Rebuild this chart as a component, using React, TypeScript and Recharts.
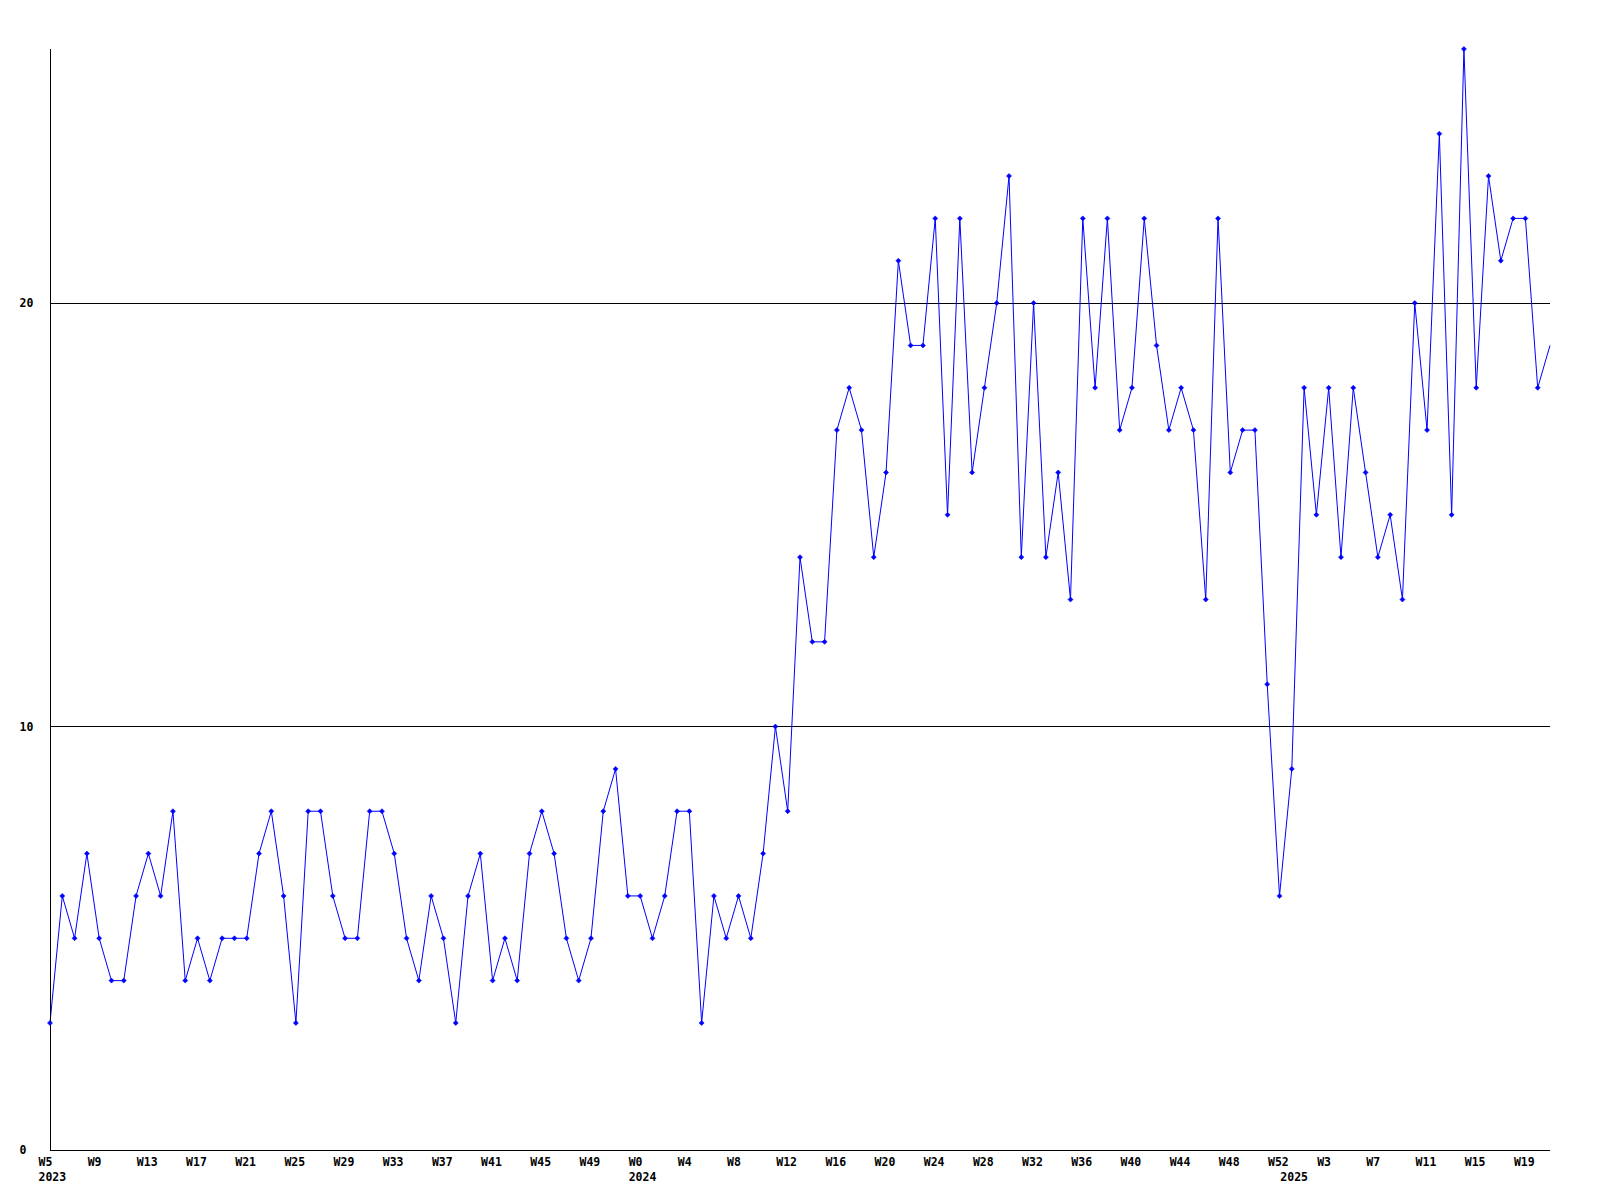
import React from "react";
import { LineChart, Line, XAxis, YAxis, ReferenceLine } from "recharts";

const categories: string[] = [
  "2023-W5","2023-W6","2023-W7","2023-W8","2023-W9","2023-W10","2023-W11","2023-W12","2023-W13","2023-W14",
  "2023-W15","2023-W16","2023-W17","2023-W18","2023-W19","2023-W20","2023-W21","2023-W22","2023-W23","2023-W24",
  "2023-W25","2023-W26","2023-W27","2023-W28","2023-W29","2023-W30","2023-W31","2023-W32","2023-W33","2023-W34",
  "2023-W35","2023-W36","2023-W37","2023-W38","2023-W39","2023-W40","2023-W41","2023-W42","2023-W43","2023-W44",
  "2023-W45","2023-W46","2023-W47","2023-W48","2023-W49","2023-W50","2023-W51","2023-W52",
  "2024-W0","2024-W1","2024-W2","2024-W3","2024-W4","2024-W5","2024-W6","2024-W7","2024-W8","2024-W9",
  "2024-W10","2024-W11","2024-W12","2024-W13","2024-W14","2024-W15","2024-W16","2024-W17","2024-W18","2024-W19",
  "2024-W20","2024-W21","2024-W22","2024-W23","2024-W24","2024-W25","2024-W26","2024-W27","2024-W28","2024-W29",
  "2024-W30","2024-W31","2024-W32","2024-W33","2024-W34","2024-W35","2024-W36","2024-W37","2024-W38","2024-W39",
  "2024-W40","2024-W41","2024-W42","2024-W43","2024-W44","2024-W45","2024-W46","2024-W47","2024-W48","2024-W49",
  "2024-W50","2024-W51","2024-W52",
  "2025-W0","2025-W1","2025-W2","2025-W3","2025-W4","2025-W5","2025-W6","2025-W7","2025-W8","2025-W9",
  "2025-W10","2025-W11","2025-W12","2025-W13","2025-W14","2025-W15","2025-W16","2025-W17","2025-W18","2025-W19",
  "2025-W20","2025-W21",
];

const values: number[] = [
  3, 6, 5, 7, 5, 4, 4, 6, 7, 6, 8, 4, 5, 4, 5, 5, 5, 7, 8, 6, 3, 8, 8,
  6, 5, 5, 8, 8, 7, 5, 4, 6, 5, 3, 6, 7, 4, 5, 4, 7, 8, 7, 5, 4, 5, 8,
  9, 6, 6, 5, 6, 8, 8, 3, 6, 5, 6, 5, 7, 10, 8, 14, 12,
  12,
  17, 18, 17, 14, 16, 21, 19, 19, 22, 15, 22, 16, 18, 20, 23, 14, 20, 14, 16,
  13, 22, 18, 22, 17, 18, 22, 19, 17, 18, 17, 13, 22, 16, 17, 17, 11, 6, 9, 18, 15,
  18, 14, 18, 16, 14, 15, 13, 20, 17, 24, 15, 26, 18, 23, 21, 22, 22, 18, 19,
];

const tickWeeks: string[] = [
  "2023-W5","2023-W9","2023-W13","2023-W17","2023-W21","2023-W25","2023-W29","2023-W33","2023-W37","2023-W41","2023-W45","2023-W49",
  "2024-W0","2024-W4","2024-W8","2024-W12","2024-W16","2024-W20","2024-W24","2024-W28","2024-W32","2024-W36","2024-W40","2024-W44","2024-W48","2024-W52",
  "2025-W3","2025-W7","2025-W11","2025-W15","2025-W19",
];

const yearLabels: string[] = ["2023", "2024", "2025"];
const yearStarts: string[] = ["2023-W5", "2024-W0", "2025-W0"];

const yTicks: number[] = [0, 10, 20];
const gridValues: number[] = [10, 20];
const yMax = 26;

const data = categories.map((c, i) => ({ i, week: c, value: values[i] }));

const xTicks: number[] = Array.from(
  new Set([...tickWeeks, ...yearStarts].map((c) => categories.indexOf(c)))
).sort((a, b) => a - b);

const FONT = "'DejaVu Sans Mono', monospace";
const BLUE = "#0000ff";

const XTick = (props: any) => {
  const { x, y, payload } = props;
  const cat = categories[payload.value];
  const week = cat.split("-")[1];
  const showWeek = tickWeeks.includes(cat);
  const yi = yearStarts.indexOf(cat);
  return (
    <g>
      {showWeek && (
        <text x={x - 11.5} y={y + 16} textAnchor="start" fontFamily={FONT} fontWeight="bold" fontSize={11.5} fill="#000">
          {week}
        </text>
      )}
      {yi >= 0 && (
        <text x={x - 11.5} y={y + 31} textAnchor="start" fontFamily={FONT} fontWeight="bold" fontSize={11.5} fill="#000">
          {yearLabels[yi]}
        </text>
      )}
    </g>
  );
};

const YTick = (props: any) => {
  const { x, y, payload } = props;
  return (
    <text x={x - 30.5} y={y + 4} textAnchor="start" fontFamily={FONT} fontWeight="bold" fontSize={11.5} fill="#000">
      {payload.value}
    </text>
  );
};

const Dot = (props: any) => {
  const { cx, cy, index } = props;
  if (index === values.length - 1 || cx == null || cy == null) return <g key={`d${index}`} />;
  const r = 2.5;
  return (
    <path
      key={`d${index}`}
      d={`M${cx - r},${cy} L${cx},${cy - r} L${cx + r},${cy} L${cx},${cy + r} Z`}
      fill={BLUE}
      stroke={BLUE}
      strokeWidth={0.6}
    />
  );
};

export default function App() {
  return (
    <div style={{ position: "absolute", left: 0, top: 0, background: "#fff" }}>
      <LineChart
        width={1600}
        height={1200}
        data={data}
        margin={{ top: 49, right: 50, bottom: 0, left: 0 }}
      >
        <XAxis
          dataKey="i"
          type="number"
          domain={[0, values.length - 1]}
          ticks={xTicks}
          interval={0}
          height={50}
          tickSize={0}
          tickMargin={0}
          tickLine={false}
          axisLine={{ stroke: "#000", strokeWidth: 1, shapeRendering: "crispEdges" }}
          tick={<XTick />}
        />
        <YAxis
          type="number"
          domain={[0, yMax]}
          ticks={yTicks}
          interval={0}
          width={50}
          tickSize={0}
          tickMargin={0}
          tickLine={false}
          axisLine={{ stroke: "#000", strokeWidth: 1, shapeRendering: "crispEdges" }}
          tick={<YTick />}
        />
        {gridValues.map((v) => (
          <ReferenceLine key={v} y={v} stroke="#000" strokeWidth={1} shapeRendering="crispEdges" />
        ))}
        <Line
          type="linear"
          dataKey="value"
          stroke={BLUE}
          strokeWidth={1}
          dot={<Dot />}
          activeDot={false}
          isAnimationActive={false}
        />
      </LineChart>
    </div>
  );
}
